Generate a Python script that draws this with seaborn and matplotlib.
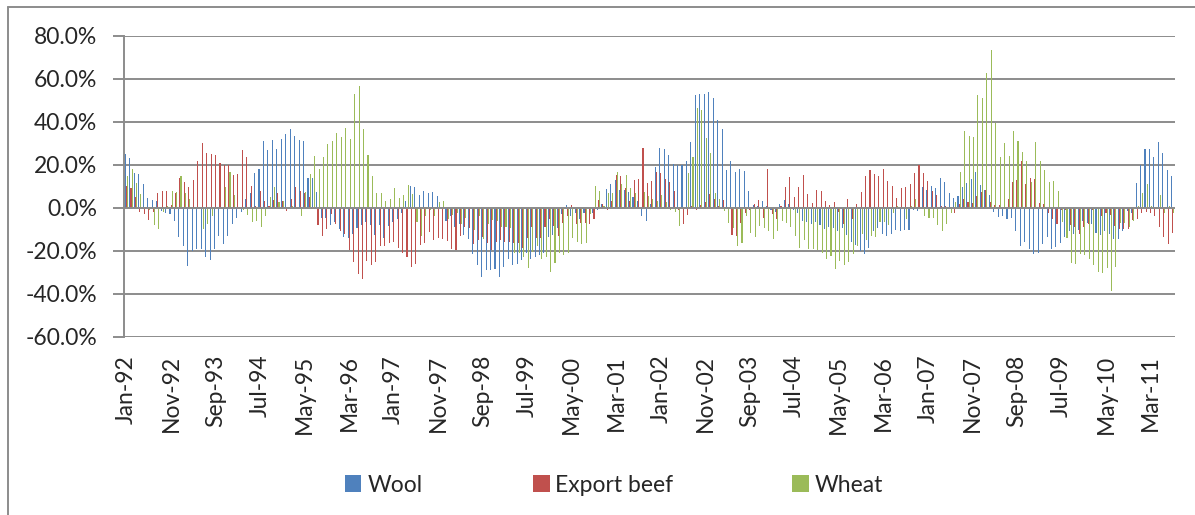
import numpy as np
import pandas as pd
import seaborn as sns
import matplotlib
matplotlib.use("Agg")
import matplotlib.pyplot as plt
from matplotlib.patches import Patch
from matplotlib.lines import Line2D
from matplotlib.ticker import FuncFormatter

# ---------------- data (monthly % change) ----------------
months = pd.date_range("1992-01-01", periods=236, freq="MS").strftime("%b-%y").tolist()

wool = [25, 23, 16, 15.6, 11, 4.7, 3.6, 3.3, -1.4, -2.6, -3, -6,
        -13.5, -18, -27, -20, -19, -19, -23, -24.5, -19, -13, -16.7, -13,
        -7.3, -4.6, -1.9, 4, 7, 16, 18, 31, 27, 31.5, 27.6, 32,
        34.6, 36.6, 33.5, 31.5, 31, 14, 14, 7.4, -4.6, -4.6, -8, -6.5,
        -10, -13.5, -14, -12.4, -9.3, -8, -6.5, -7.8, -12.7, -8, -14, -8.4,
        -6.5, -5, -2.3, 3, 10, 9.6, 6.2, 8, 7, 7.4, 5.6, 0.5,
        -6.2, -4, -9, -7.3, -12.7, -14.7, -21.7, -26.7, -32.4, -29, -29, -28.7,
        -32, -27.4, -23.6, -26.4, -26, -24.3, -21, -23.6, -23, -22, -21, -13.6,
        -12.7, -9.6, -3, 1.2, -4, -2.6, -5, -2.3, -0.6, -2.6, -0.8, 1.7,
        8.7, 11.3, 12.9, 8.5, 8.2, 7.4, 5, 3, -4, -6, 2, 19,
        28, 27.3, 24.5, 20.6, 19.8, 19.8, 21.7, 30.8, 52.7, 52.9, 53.2, 54,
        51.3, 40.8, 36.6, 17.8, 22, 16.6, 18.3, 17.2, 7.8, 1.5, 0.8, 3,
        1, -1, -2, 2, 3.6, 1.7, -1, -2.3, -6.2, -6.8, -7.5, -6.5,
        -8, -10, -9, -9.3, -11, -9.3, -12.7, -16, -17.4, -20, -21.7, -18.6,
        -11, -9.3, -12.2, -13, -12.2, -10.4, -11, -10.4, -10.2, -1, -1.4, 9.6,
        8.2, 10.2, 9, 14, 12, 6.7, 4.8, 5.4, 9.5, 11.5, 13.5, 16.6,
        10.7, 8.5, 5.9, -1.9, -4.2, -3.9, -5.4, -4.6, -11, -17.7, -15.8, -19,
        -21.7, -21, -17, -13.5, -19, -18.4, -16.3, -13.5, -10.9, -12, -10.4, -6.2,
        -7, -7.6, -11.5, -12.7, -10.9, -12.4, -14.3, -14.7, -11, -1.6, -2.6, 11.5,
        19.8, 27.3, 27.6, 23.7, 30.7, 25.3, 17.4, 14.9]

beef = [10, 9, 5, -2, -3, -5.6, -2, 7, 8, 8, 1.5, 7,
        14, 12, 9.6, 13, 21.7, 30, 25.6, 25, 24.5, 20.8, 19.8, 19.8,
        15.5, 15.7, 27, 23.7, 10, 1, 8, 3, 1, 3.5, 7, 3,
        -1.5, 4, 9.6, 8, 7, 5, 0, -8, -13, -10, -3, -7.4,
        -10.7, -12.4, -19.7, -25, -31, -33, -24.8, -26.7, -25.4, -17.7, -18, -16.6,
        -16, -18.6, -21, -22.8, -27.4, -26, -17.4, -16.6, -11.3, -15, -14, -14.6,
        -15.3, -19, -19.7, -13, -8.8, -9.3, -17, -15, -13.5, -16.6, -19.5, -15.8,
        -15, -15.8, -16, -16.6, -16.6, -18.6, -14, -8.8, -14, -14, -9, -5,
        -8.5, -13, -7, -3.7, 1.5, -7.3, -7, -7, -7.4, -5.3, 3.6, 2,
        -1, 3, 15.2, 14.9, 9, 3, 12.9, 13.6, 28, 11.5, 12.7, 16.7,
        16.3, 13.3, 12, 7.8, -1, -7.6, -3.4, 1, -1, 1.5, 2.8, 6.4,
        4, 1, 3.6, 0.5, -12.7, -13.3, -7, -2.3, -1.2, 1.7, 3.6, -4.6,
        18.3, -3, -5.3, 1, 9.5, 14.4, 5, 9.5, 15.5, 6.5, 2.2, 8.5,
        7.8, 3.4, 1.2, 2.6, -2, -7.3, 4, -5, 2, 7.4, 15, 17.4,
        15.8, 14.6, 18, 12.4, 10, 4.7, 9, 9.5, 11.3, 16, 20, 16,
        12.7, 8, 6.2, 1, 1, -0.5, -2.6, 1.7, 4, 2.8, 2.3, 5.6,
        7.4, 8.2, 2.8, 1.5, 1.2, 0.5, 4.3, 12, 12.9, 22, 11.2, 14,
        13.2, 2.3, 2, -2.2, -5, -7.3, -1, -1, -8, -8.8, -12, -9,
        -7.6, -1, 0.5, -3.7, -2.6, -3.4, -8.5, -10, -10, -10, -5.7, -5,
        -2.6, -1.9, -2.6, -3.9, -8.8, -13.5, -17, -11.6]

wheat = [15, 18, 11.5, 6.4, 0, -1, -8, -9.8, -2, 1, 8, 7.4,
         14.7, 6.8, 4.3, 0, 0.5, -10, -7.4, -4, 0, 0.6, 9.8, 16.6,
         6.2, 0, -1, -3.4, -6.5, -6, -9, -4, 5, 9.8, 2.8, 3,
         0.5, 1, 0.5, -4, 7.4, 15.8, 24, 18, 23.6, 29.6, 31, 34.7,
         33, 37, 32, 53, 56.6, 36.8, 24.5, 15, 6.8, 6.7, 3, 4.3,
         9, 4.8, 6, 10.5, 6.5, -6.5, -13, -4, -1, -4, 2.5, 3,
         -5, -3.4, -2.6, -7.6, -4.6, -0.6, -10.4, -4, -14.3, -7.6, -5.7, -6,
         -8.8, -8.8, -9.6, -21, -21, -23, -28, -20.5, -18, -24, -23, -30,
         -25.6, -21, -22, -21, -14, -15.8, -17, -16.6, -3, 10, 7.7, 1,
         6.8, 7, 16.7, 11, 15.5, 9, 6.7, -0.6, 7.3, 5.4, 3.9, 3,
         6.2, 2.5, -1, -2, -8.5, 0.5, 16, 23.7, 46.5, 45.4, 32.5, 25.6,
         6.7, 4.3, -1.5, -7, -9.6, -18, -16.3, -4, -11.5, -13.5, -8.4, -9.3,
         -10.7, -14.3, -10.7, -6, -7, -8.8, -13, -18.6, -15, -19.2, -19.2, -19.7,
         -21, -24, -22.3, -28.7, -24.6, -26.7, -25.4, -21.7, -17.8, -12.4, -15, -13,
         -13.8, -6.5, -6.5, -8, -2.6, 1, 0.5, -5, 1, 4.3, 0.5, -4,
         -4.6, -4.6, -7.8, -10.7, -7.6, -2.6, 2.8, 16.6, 36, 33.3, 32.9, 52.4,
         51.2, 63, 73.3, 39.7, 23.6, 30, 24.3, 35.8, 31.3, 26, 21.9, 12,
         30.5, 21.9, 17.4, 12, 12.6, 8, -6.5, -14, -25.6, -26, -21.7, -22,
         -23.6, -26.4, -29.8, -30.5, -28.2, -38.9, -27.4, -7, -7, -8.8, -6.2, 1,
         7.1, 11, 1, 0.5, 6.2, -2.3, 1, -2.6]

series_names = ["Wool", "Export beef", "Wheat"]
colors = ["#4F81BD", "#C0504D", "#9BBB59"]
tick_labels = ["Jan-92", "Nov-92", "Sep-93", "Jul-94", "May-95", "Mar-96",
               "Jan-97", "Nov-97", "Sep-98", "Jul-99", "May-00", "Mar-01",
               "Jan-02", "Nov-02", "Sep-03", "Jul-04", "May-05", "Mar-06",
               "Jan-07", "Nov-07", "Sep-08", "Jul-09", "May-10", "Mar-11"]
y_ticks = [-0.6, -0.4, -0.2, 0.0, 0.2, 0.4, 0.6, 0.8]

# ---------------- build long table ----------------
df = pd.DataFrame({
    "month": months * 3,
    "series": sum([[n] * len(months) for n in series_names], []),
    "value": np.array(wool + beef + wheat) / 100.0,
})

# ---------------- style ----------------
sns.set_style("white")
plt.rcParams["font.family"] = ["Lato", "DejaVu Sans"]
FS = 16.5
GRID = "#8C8C8C"

W, H = 1195, 515
fig = plt.figure(figsize=(W / 100, H / 100), dpi=100)
ax = fig.add_axes([124.3 / W, 1 - 336.7 / H, (1175 - 124.3) / W, (336.7 - 36) / H])

sns.barplot(data=df, x="month", y="value", hue="series", order=months,
            hue_order=series_names, palette=colors, saturation=1,
            width=0.72, linewidth=0, dodge=True, legend=False, ax=ax)

ax.set_ylim(-0.6, 0.8)
ax.set_xlim(-0.5, len(months) - 0.5)
ax.set_yticks(y_ticks)
ax.yaxis.set_major_formatter(FuncFormatter(lambda v, p: f"{v * 100:.1f}%"))
ax.set_axisbelow(True)
ax.grid(axis="y", color=GRID, linewidth=1.4)
ax.grid(axis="x", visible=False)
ax.axhline(0, color=GRID, linewidth=1.4, zorder=4)

tick_pos = [months.index(t) for t in tick_labels]
ax.set_xticks(tick_pos)
ax.set_xticklabels(tick_labels, rotation=90, fontsize=FS)
ax.tick_params(axis="x", length=0, pad=13)
ax.tick_params(axis="y", length=8, width=1.4, color=GRID, direction="out",
               pad=11.5, labelsize=FS, left=True)
ax.set_xlabel("")
ax.set_ylabel("")
for s in ["top", "right", "bottom"]:
    ax.spines[s].set_visible(False)
ax.spines["left"].set_color(GRID)
ax.spines["left"].set_linewidth(1.4)

# ---------------- legend (three separate entries, as in the original) ----------------
legend_x = [345, 533, 792]
for name, col, lx in zip(series_names, colors, legend_x):
    fig.legend(handles=[Patch(facecolor=col, edgecolor="none", label=name)],
               loc="center left", bbox_to_anchor=(lx / W, 1 - 485 / H),
               frameon=False, fontsize=FS, handlelength=0.72, handleheight=0.72,
               handletextpad=0.25, borderpad=0, borderaxespad=0)

# ---------------- chart-area border (left and top edges visible) ----------------
bx, by = 7.5 / W, 1 - 6.5 / H
fig.add_artist(Line2D([bx, bx], [0, by], color=GRID, linewidth=1.4, transform=fig.transFigure))
fig.add_artist(Line2D([bx, 1.0], [by, by], color=GRID, linewidth=1.4, transform=fig.transFigure))

fig.savefig("out.png", dpi=100, facecolor="white")
